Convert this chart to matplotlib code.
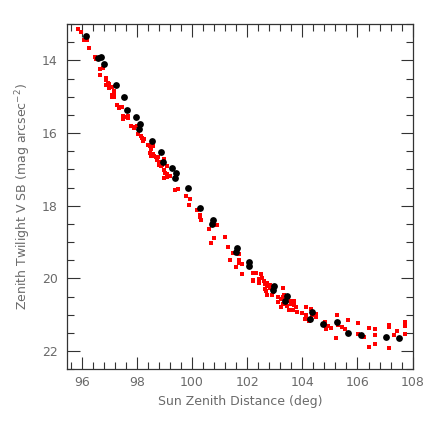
import matplotlib
matplotlib.use("Agg")
import matplotlib.pyplot as plt
from matplotlib.ticker import MultipleLocator

# model points (big black dots)
model_zd = [96.15, 96.58, 96.69, 96.81, 97.25, 97.55, 97.65, 97.97, 98.11, 98.08,
            98.55, 98.86, 98.96, 99.28, 99.42, 99.40, 99.85, 100.28, 100.76, 100.71,
            101.65, 101.60, 102.08, 102.05, 102.98, 102.94, 103.44, 103.39, 104.35, 104.29,
            104.75, 105.27, 105.65, 106.11, 107.03, 107.49]
model_sb = [13.33, 13.93, 13.92, 14.10, 14.67, 15.01, 15.36, 15.57, 15.74, 15.88,
            16.21, 16.52, 16.81, 16.97, 17.09, 17.24, 17.52, 18.07, 18.38, 18.49,
            19.17, 19.28, 19.54, 19.66, 20.22, 20.33, 20.49, 20.63, 20.93, 21.11,
            21.26, 21.20, 21.50, 21.55, 21.61, 21.64]

# measured points (small red dots)
obs_zd = [95.88, 95.97, 96.08, 96.18, 96.28, 96.48, 96.52, 96.68, 96.76, 96.68,
          96.88, 96.88, 96.97, 96.99, 96.88, 97.00, 97.09, 97.19, 97.09, 97.19,
          97.11, 97.19, 97.29, 97.37, 97.47, 97.37, 97.49, 97.57, 97.67, 97.51,
          97.68, 97.79, 97.91, 97.88, 98.00, 98.06, 98.15, 98.18, 98.22, 98.27,
          98.39, 98.48, 98.52, 98.57,
          98.48, 98.51, 98.58, 98.63, 98.70, 98.78, 98.73, 98.82, 98.79, 98.91,
          98.87, 99.00, 98.97, 99.09, 99.03, 99.11, 99.21, 98.99, 99.09, 99.39,
          99.49, 99.79, 99.91, 99.90, 100.20, 100.30, 100.33, 100.30, 100.61, 100.90,
          100.80, 100.70, 101.21, 101.31, 101.50, 101.72, 101.39, 101.71, 101.71, 101.61,
          101.82,
          101.82, 102.20, 102.33, 102.20, 102.22, 102.43, 102.43, 102.51, 102.55, 102.60,
          102.64, 102.73, 102.73, 102.82, 102.63, 102.70, 102.73, 102.82, 102.91, 102.95,
          103.13, 103.21, 103.30, 103.33, 103.31, 103.21, 103.11, 103.31, 103.46, 103.55,
          103.58, 103.70, 103.51, 103.70, 103.76, 103.82, 103.67, 104.00, 104.12, 104.15,
          104.10, 104.22, 104.24, 104.30, 104.34, 104.45, 104.51, 104.51, 104.82, 104.85,
          104.93, 105.03, 105.24, 105.21, 105.31, 105.43, 105.54, 105.64, 106.03, 106.03,
          106.24, 106.43, 106.43, 106.63, 106.63, 106.63, 107.14, 107.14, 107.14, 107.33,
          107.45, 107.74, 107.74, 107.74]
obs_sb = [13.15, 13.21, 13.43, 13.43, 13.67, 13.92, 13.95, 14.23, 14.21, 14.41,
          14.49, 14.53, 14.61, 14.65, 14.68, 14.76, 14.73, 14.84, 14.95, 14.95,
          15.01, 15.01, 15.24, 15.28, 15.29, 15.32, 15.52, 15.55, 15.53, 15.61,
          15.59, 15.82, 15.84, 15.86, 15.80, 16.03, 16.08, 16.14, 16.22, 16.17,
          16.33, 16.37, 16.44, 16.35,
          16.55, 16.63, 16.58, 16.63, 16.65, 16.67, 16.74, 16.80, 16.87, 16.88,
          16.92, 16.72, 17.03, 16.92, 17.11, 17.14, 17.17, 17.24, 17.22, 17.57,
          17.54, 17.73, 17.82, 17.99, 18.12, 18.30, 18.38, 18.26, 18.65, 18.54,
          18.90, 19.02, 18.87, 19.14, 19.30, 19.34, 19.50, 19.48, 19.57, 19.68,
          19.61,
          19.87, 19.85, 19.84, 20.05, 20.08, 20.01, 20.12, 19.87, 19.99, 20.08,
          20.16, 20.12, 20.21, 20.19, 20.28, 20.34, 20.46, 20.26, 20.46, 20.37,
          20.51, 20.57, 20.52, 20.45, 20.25, 20.79, 20.64, 20.69, 20.77, 20.63,
          20.69, 20.63, 20.86, 20.74, 20.80, 20.92, 20.86, 20.95, 20.79, 21.02,
          21.11, 21.13, 21.18, 20.83, 21.02, 21.02, 20.97, 21.06, 21.20, 21.38,
          21.32, 21.37, 21.02, 21.63, 21.29, 21.34, 21.38, 21.15, 21.23, 21.52,
          21.60, 21.37, 21.89, 21.38, 21.55, 21.81, 21.29, 21.34, 21.92, 21.57,
          21.46, 21.21, 21.32, 21.52]

grey = "#6a6a6a"
plt.rcParams["font.family"] = "DejaVu Sans"

fig = plt.figure(figsize=(4.36, 4.36), dpi=100)
ax = fig.add_axes([0.1544, 0.153, 0.792, 0.792])

ax.scatter(obs_zd, obs_sb, s=5, color="red", marker="s", linewidths=0, zorder=2)
ax.scatter(model_zd, model_sb, s=24, color="black", linewidths=0, zorder=3)

ax.set_xlim(95.48, 108)
ax.set_ylim(22.5, 13)
ax.xaxis.set_major_locator(MultipleLocator(2))
ax.xaxis.set_minor_locator(MultipleLocator(0.4))
ax.yaxis.set_major_locator(MultipleLocator(2))
ax.yaxis.set_minor_locator(MultipleLocator(0.5))
ax.tick_params(which="both", direction="in", top=True, right=True,
               color="#333333", labelcolor=grey, labelsize=9)
ax.tick_params(which="major", length=9, width=0.8)
ax.tick_params(which="minor", length=5, width=0.8)
ax.tick_params(axis="x", pad=5)
ax.tick_params(axis="y", pad=7)
for sp in ax.spines.values():
    sp.set_color("#333333")
    sp.set_linewidth(0.9)

ax.set_xlabel("Sun Zenith Distance (deg)", color=grey, fontsize=9, labelpad=4)
ax.set_ylabel(r"Zenith Twilight V SB (mag arcsec$^{-2}$)", color=grey, fontsize=9, labelpad=6)

fig.savefig("out.png", dpi=100)
